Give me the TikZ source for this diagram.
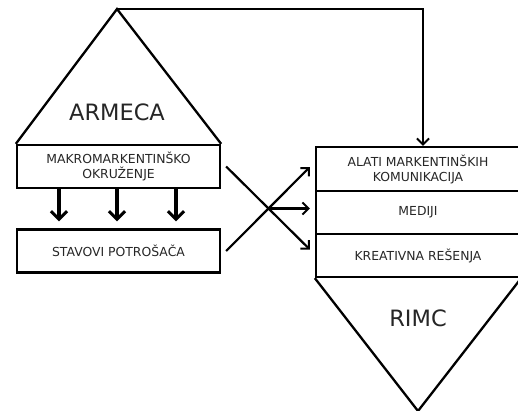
\documentclass[tikz,border=0pt]{standalone}
\usepackage{fontspec}
\setmainfont{DejaVu Sans}
\usetikzlibrary{arrows.meta,calc}
\tikzstyle{block}=[draw,
                   line width=2.3pt,
                   minimum width=203pt,
                   minimum height=43pt,
                   inner sep=0pt,
                   align=center,
                   text=black!85,
                   font=\fontsize{12.4}{15}\selectfont]
\tikzstyle{big}=[text=black!85,font=\fontsize{22.5}{26}\selectfont]
\tikzstyle{edge}=[line width=2.3pt,line join=miter]
\tikzstyle{link}=[line width=2.2pt,-{Straight Barb[length=6pt,width=12pt,line width=2pt]}]
\tikzstyle{push}=[line width=4pt,-{Straight Barb[length=8pt,width=16pt,line width=3pt]}]

\begin{document}
\begin{tikzpicture}[x=1pt,y=-1pt]
    \useasboundingbox (0,0) rectangle (518,410);
    \node[block] (makro) at (118.5,166.5) {MAKROMARKENTINŠKO\\OKRUŽENJE};
    \node[block] (stavovi) at (118.5,251) {STAVOVI POTROŠAČA};
    \node[block, minimum width=204pt, minimum height=44pt] (alati) at (418,169) {ALATI MARKENTINŠKIH\\KOMUNIKACIJA};
    \node[block, minimum width=204pt] (mediji) at (418,212.5) {MEDIJI};
    \node[block, minimum width=204pt] (kreativna) at (418,255.5) {KREATIVNA REŠENJA};

    \coordinate (armecaTop) at (117,9);
    \draw[edge] (makro.north west) -- (armecaTop) -- (makro.north east);
    \node[big] (armeca) at (117,112) {ARMECA};
    \coordinate (rimcTip) at (418,411);
    \draw[edge] (kreativna.south west) -- (rimcTip) -- (kreativna.south east);
    \node[big] (rimc) at (418,318) {RIMC};

    \draw[link] (armecaTop) -| ([xshift=5pt]alati.north);
    \foreach \dx in {-59.5,-1.5,57.5}
        \draw[push] ([xshift=\dx pt]makro.south) -- ([xshift=\dx pt,yshift=7pt]stavovi.north);

    \coordinate (aFrom) at ([xshift=5pt]makro.east);
    \coordinate (aTo) at ([xshift=-5pt,yshift=6pt]kreativna.west);
    \coordinate (bFrom) at ([xshift=5pt]stavovi.east);
    \coordinate (bTo) at ([xshift=-5pt,yshift=2pt]alati.west);
    \coordinate (cross) at (intersection of aFrom--aTo and bFrom--bTo);
    \draw[link] (aFrom) -- (aTo);
    \draw[link] (bFrom) -- (bTo);
    \draw[link, line width=3.2pt] (cross) -- ($(cross -| mediji.west)+(-5,0)$);
\end{tikzpicture}
\end{document}
